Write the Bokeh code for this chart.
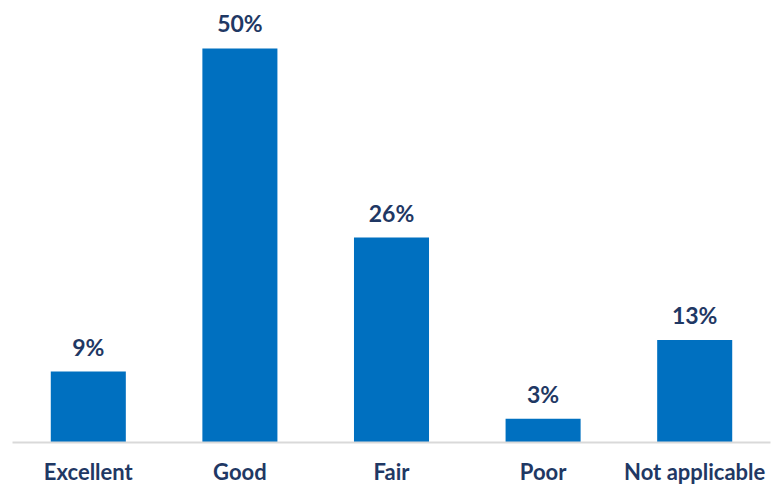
from bokeh.plotting import figure
from bokeh.models import ColumnDataSource, Range1d
from bokeh.core.properties import value
from bokeh.embed import file_html
from bokeh.resources import INLINE

categories = ["Excellent", "Good", "Fair", "Poor", "Not applicable"]
percents = [9, 50, 26, 3, 13]
labels = [f"{v}%" for v in percents]

BAR = "#0070C0"
NAVY = "#1F3864"
FONT = "Lato"

src = ColumnDataSource(dict(cat=categories, val=percents, lab=labels))

p = figure(x_range=categories, y_range=Range1d(0, 56.09), width=776, height=487,
           output_backend="svg", toolbar_location=None,
           min_border_left=12, min_border_right=6, min_border_top=0, min_border_bottom=45)
p.vbar(x="cat", top="val", width=0.495, source=src, color=BAR, line_color=None)
p.text(x="cat", y="val", text="lab", source=src, text_align="center", text_baseline="alphabetic",
       y_offset=-25, text_font=value(FONT), text_font_style="bold", text_font_size="23px",
       text_color=NAVY)

p.outline_line_color = None
p.grid.visible = False
p.yaxis.visible = False
p.xaxis.axis_line_color = "#D9D9D9"
p.xaxis.axis_line_width = 2
p.xaxis.major_tick_line_color = None
p.xaxis.minor_tick_line_color = None
p.xaxis.major_label_text_font = FONT
p.xaxis.major_label_text_font_style = "bold"
p.xaxis.major_label_text_font_size = "22px"
p.xaxis.major_label_text_color = NAVY
p.xaxis.major_label_standoff = 9
p.x_range.range_padding = 0
p.background_fill_color = "white"
p.border_fill_color = "white"

open("out.html", "w").write(file_html(p, INLINE))
